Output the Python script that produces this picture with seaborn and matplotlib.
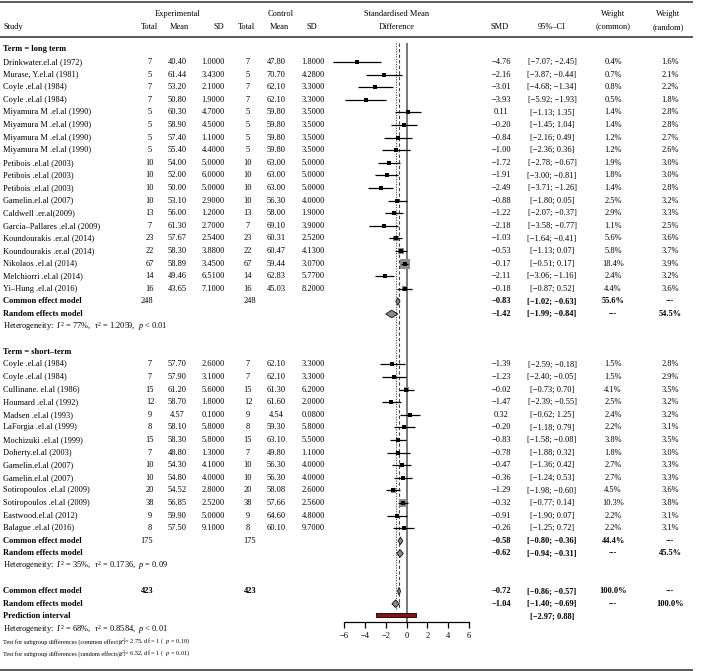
import numpy as np
import pandas as pd
import matplotlib
matplotlib.use("Agg")
import matplotlib.pyplot as plt
import seaborn as sns
from matplotlib.patches import Polygon, Rectangle

# ---------------- data ----------------
names_long = ["Drinkwater.el.al (1972)", "Murase, Y.el.al (1981)", "Coyle .el.al (1984)",
              "Coyle .el.al (1984)", "Miyamura M .el.al (1990)", "Miyamura M .el.al (1990)",
              "Miyamura M .el.al (1990)", "Miyamura M .el.al (1990)", "Petibois .el.al (2003)",
              "Petibois .el.al (2003)", "Petibois .el.al (2003)", "Gamelin.el.al (2007)",
              "Caldwell .er.al(2009)", "Garcia–Pallares .el.al (2009)", "Koundourakis .er.al (2014)",
              "Koundourakis .er.al (2014)", "Nikolaos .el.al (2014)", "Melchiorri .el.al (2014)",
              "Yi–Hung .el.al (2016)"]
n_long = [7, 5, 7, 7, 5, 5, 5, 5, 10, 10, 10, 10, 13, 7, 23, 22, 67, 14, 16]
mean_e_long = [40.40, 61.44, 53.20, 50.80, 60.30, 58.90, 57.40, 55.40, 54.00, 52.00, 50.00,
               53.10, 56.00, 61.30, 57.67, 58.30, 58.89, 49.46, 43.65]
sd_e_long = [1.0, 3.43, 2.1, 1.9, 4.7, 4.5, 1.1, 4.4, 5.0, 6.0, 5.0, 2.9, 1.2, 2.7, 2.54, 3.88,
             3.45, 6.51, 7.1]
mean_c_long = [47.80, 70.70, 62.10, 62.10, 59.80, 59.80, 59.80, 59.80, 63.00, 63.00, 63.00,
               56.30, 58.00, 69.10, 60.31, 60.47, 59.44, 62.83, 45.03]
sd_c_long = [1.8, 4.28, 3.3, 3.3, 3.5, 3.5, 3.5, 3.5, 5.0, 5.0, 5.0, 4.0, 1.9, 3.9, 2.52, 4.13,
             3.07, 5.77, 8.2]
smd_long = [-4.76, -2.16, -3.01, -3.93, 0.11, -0.20, -0.84, -1.00, -1.72, -1.91, -2.49, -0.88,
            -1.22, -2.18, -1.03, -0.53, -0.17, -2.11, -0.18]
lo_long = [-7.07, -3.87, -4.68, -5.92, -1.13, -1.45, -2.16, -2.36, -2.78, -3.00, -3.71, -1.80,
           -2.07, -3.58, -1.64, -1.13, -0.51, -3.06, -0.87]
hi_long = [-2.45, -0.44, -1.34, -1.93, 1.35, 1.04, 0.49, 0.36, -0.67, -0.81, -1.26, 0.05,
           -0.37, -0.77, -0.41, 0.07, 0.17, -1.16, 0.52]
wc_long = [0.4, 0.7, 0.8, 0.5, 1.4, 1.4, 1.2, 1.2, 1.9, 1.8, 1.4, 2.5, 2.9, 1.1, 5.6, 5.8, 18.4,
           2.4, 4.4]
wr_long = [1.6, 2.1, 2.2, 1.8, 2.8, 2.8, 2.7, 2.6, 3.0, 3.0, 2.8, 3.2, 3.3, 2.5, 3.6, 3.7, 3.9,
           3.2, 3.6]

names_short = ["Coyle .el.al (1984)", "Coyle .el.al (1984)", "Cullinane. el.al (1986)",
               "Houmard .el.al (1992)", "Madsen .el.al (1993)", "LaForgia .el.al (1999)",
               "Mochizuki .el.al (1999)", "Doherty.el.al (2003)", "Gamelin.el.al (2007)",
               "Gamelin.el.al (2007)", "Sotiropoulos .el.al (2009)", "Sotiropoulos .el.al (2009)",
               "Eastwood.el.al (2012)", "Balague .el.al (2016)"]
n_short = [7, 7, 15, 12, 9, 8, 15, 7, 10, 10, 20, 38, 9, 8]
mean_e_short = [57.70, 57.90, 61.20, 58.70, 4.57, 58.10, 58.30, 48.80, 54.30, 54.80, 54.52,
                56.85, 59.90, 57.50]
sd_e_short = [2.6, 3.1, 5.6, 1.8, 0.1, 5.8, 5.8, 1.3, 4.1, 4.0, 2.8, 2.52, 5.0, 9.1]
mean_c_short = [62.10, 62.10, 61.30, 61.60, 4.54, 59.30, 63.10, 49.80, 56.30, 56.30, 58.08,
                57.66, 64.60, 60.10]
sd_c_short = [3.3, 3.3, 6.2, 2.0, 0.08, 5.8, 5.5, 1.1, 4.0, 4.0, 2.6, 2.56, 4.8, 9.7]
smd_short = [-1.39, -1.23, -0.02, -1.47, 0.32, -0.20, -0.83, -0.78, -0.47, -0.36, -1.29, -0.32,
             -0.91, -0.26]
lo_short = [-2.59, -2.40, -0.73, -2.39, -0.62, -1.18, -1.58, -1.88, -1.36, -1.24, -1.98, -0.77,
            -1.90, -1.25]
hi_short = [-0.18, -0.05, 0.70, -0.55, 1.25, 0.79, -0.08, 0.32, 0.42, 0.53, -0.60, 0.14, 0.07,
            0.72]
wc_short = [1.5, 1.5, 4.1, 2.5, 2.4, 2.2, 3.8, 1.8, 2.7, 2.7, 4.5, 10.3, 2.2, 2.2]
wr_short = [2.8, 2.9, 3.5, 3.2, 3.2, 3.1, 3.5, 3.0, 3.3, 3.3, 3.6, 3.8, 3.1, 3.1]

# pooled: [estimate, lower, upper]
common_long = [-0.83, -1.02, -0.63]
random_long = [-1.42, -1.99, -0.84]
wsum_long = [55.6, 54.5]
het_long = ["77%", "1.2059", "< 0.01"]
common_short = [-0.58, -0.80, -0.36]
random_short = [-0.62, -0.94, -0.31]
wsum_short = [44.4, 45.5]
het_short = ["35%", "0.1736", "= 0.09"]
common_all = [-0.72, -0.86, -0.57]
random_all = [-1.04, -1.40, -0.69]
pred_all = [-2.97, 0.88]
het_all = ["68%", "0.8584", "< 0.01"]
n_total = [248, 175, 423]
test_common = ["2.75", "1", "0.10"]
test_random = ["6.52", "1", "0.01"]
xticks = [-6, -4, -2, 0, 2, 4, 6]

# ---------------- style ----------------
sns.set_theme(style="white")
plt.rcParams["font.family"] = ["Liberation Serif", "DejaVu Serif"]
plt.rcParams["mathtext.fontset"] = "custom"
plt.rcParams["mathtext.rm"] = "Liberation Serif"
plt.rcParams["mathtext.it"] = "Liberation Serif:italic"
plt.rcParams["mathtext.bf"] = "Liberation Serif:bold"

W, H = 721, 671
FS = 6.0
FS_TEST = 4.5
fig = plt.figure(figsize=(W / 100, H / 100), dpi=100)
bg = fig.add_axes([0, 0, 1, 1])
bg.set_xlim(0, W)
bg.set_ylim(H, 0)
bg.axis("off")

Y0, DY = 62.0, 12.6
def ry(r):
    return Y0 + DY * r

# row layout
r_long_head = -1
r_long = np.arange(len(names_long))
r_long_c = len(names_long)
r_long_r = r_long_c + 1
r_long_h = r_long_c + 2
r_short_head = r_long_h + 2
r_short = r_short_head + 1 + np.arange(len(names_short))
r_short_c = r_short[-1] + 1
r_short_r = r_short_c + 1
r_short_h = r_short_c + 2
r_all_c = r_short_h + 2
r_all_r = r_all_c + 1
r_pred = r_all_c + 2
r_all_h = r_all_c + 3
r_test1 = r_all_c + 4
r_test2 = r_all_c + 5

# column x positions (pixels)
X_STUDY = 3
X_NE, X_ME, X_SE = 150, 177, 213
X_NC, X_MC, X_SC = 248, 276, 313
X_SMD, X_CI, X_WC, X_WR = 501, 552, 613, 670
X_FOREST = 397

def m(v):
    return f"{v:.2f}".replace("-", "−")

def ci(lo, hi):
    return f"[{m(lo)}; {m(hi)}]"

def t(x, y, s, ha="center", bold=False, fs=FS):
    bg.text(x, y, s, ha=ha, va="center", fontsize=fs,
            fontweight="bold" if bold else "normal", color="black")

# rules
LC = "#5a5a5a"
bg.hlines([1.5, 37.0, 669.5], 0, 693, color=LC, lw=1.4)

# header
t(178, 13.5, "Experimental")
t(281, 13.5, "Control")
t(X_FOREST, 13.5, "Standardised Mean")
t(X_WC, 13.5, "Weight")
t(X_WR - 2, 13.5, "Weight")
t(X_STUDY, 27, "Study", ha="left")
for x, s in [(150, "Total"), (179, "Mean"), (219, "SD"), (247, "Total"), (279, "Mean"),
             (312, "SD"), (X_FOREST, "Difference"), (500, "SMD"), (X_CI, "95%–CI"),
             (X_WC, "(common)"), (X_WR - 2, "(random)")]:
    t(x, 27, s)

def study_rows(rows, names, n, me, se, mc, sc, smd, lo, hi, wc, wr):
    for i, r in enumerate(rows):
        y = ry(r)
        t(X_STUDY, y, names[i], ha="left")
        t(X_NE, y, f"{n[i]}")
        t(X_ME, y, f"{me[i]:.2f}")
        t(X_SE, y, f"{se[i]:.4f}")
        t(X_NC, y, f"{n[i]}")
        t(X_MC, y, f"{mc[i]:.2f}")
        t(X_SC, y, f"{sc[i]:.4f}")
        t(X_SMD, y, m(smd[i]))
        t(X_CI, y, ci(lo[i], hi[i]))
        t(X_WC, y, f"{wc[i]:.1f}%")
        t(X_WR, y, f"{wr[i]:.1f}%")

def het_text(y, h):
    t(X_STUDY, y, "Heterogeneity:  $I^2$ = " + h[0] + ",  $\\tau^2$ = " + h[1] +
      ",  $p$ " + h[2], ha="left")

def pooled_rows(rc, rr, ntot, cm, rd, ws, bold_n=False):
    t(X_STUDY, ry(rc), "Common effect model", ha="left", bold=True)
    t(X_NE - 3, ry(rc), f"{ntot}", bold=bold_n)
    t(X_NC + 2, ry(rc), f"{ntot}", bold=bold_n)
    t(X_SMD, ry(rc), m(cm[0]), bold=True)
    t(X_CI, ry(rc), ci(cm[1], cm[2]), bold=True)
    t(X_WC, ry(rc), f"{ws[0]:.1f}%", bold=True)
    t(X_WR, ry(rc), "---", bold=True)
    t(X_STUDY, ry(rr), "Random effects model", ha="left", bold=True)
    t(X_SMD, ry(rr), m(rd[0]), bold=True)
    t(X_CI, ry(rr), ci(rd[1], rd[2]), bold=True)
    t(X_WC, ry(rr), "---", bold=True)
    t(X_WR, ry(rr), f"{ws[1]:.1f}%", bold=True)

t(X_STUDY, ry(r_long_head), "Term = long term", ha="left", bold=True)
study_rows(r_long, names_long, n_long, mean_e_long, sd_e_long, mean_c_long, sd_c_long,
           smd_long, lo_long, hi_long, wc_long, wr_long)
pooled_rows(r_long_c, r_long_r, n_total[0], common_long, random_long, wsum_long)
het_text(ry(r_long_h), het_long)

t(X_STUDY, ry(r_short_head), "Term = short–term", ha="left", bold=True)
study_rows(r_short, names_short, n_short, mean_e_short, sd_e_short, mean_c_short, sd_c_short,
           smd_short, lo_short, hi_short, wc_short, wr_short)
pooled_rows(r_short_c, r_short_r, n_total[1], common_short, random_short, wsum_short)
het_text(ry(r_short_h), het_short)

pooled_rows(r_all_c, r_all_r, n_total[2], common_all, random_all, [100.0, 100.0], bold_n=True)
t(X_STUDY, ry(r_pred), "Prediction interval", ha="left", bold=True)
t(X_CI, ry(r_pred), ci(pred_all[0], pred_all[1]), bold=True)
het_text(ry(r_all_h), het_all)
t(X_STUDY, ry(r_test1), "Test for subgroup differences (common effect):", ha="left", fs=FS_TEST)
t(119, ry(r_test1), "$\\chi^2_1$= " + test_common[0] + ", df = " + test_common[1] +
  " (  $p$ = " + test_common[2] + ")", ha="left", fs=FS_TEST)
t(X_STUDY, ry(r_test2), "Test for subgroup differences (random effects):", ha="left", fs=FS_TEST)
t(119, ry(r_test2), "$\\chi^2_1$= " + test_random[0] + ", df = " + test_random[1] +
  " (  $p$ = " + test_random[2] + ")", ha="left", fs=FS_TEST)

# ---------------- forest ----------------
AX_Y = 622.0
fa = fig.add_axes([344 / W, (H - AX_Y) / H, 125 / W, AX_Y / H])
fa.set_xlim(-6, 6)
fa.set_ylim(AX_Y, 0)
fa.patch.set_alpha(0)
for s in ["top", "left", "right"]:
    fa.spines[s].set_visible(False)
fa.spines["bottom"].set_color("black")
fa.spines["bottom"].set_linewidth(0.9)
fa.set_yticks([])
fa.set_xticks(xticks)
fa.set_xticklabels([f"{v}".replace("-", "−") for v in xticks])
fa.tick_params(axis="x", direction="out", length=4, width=0.9, labelsize=FS, pad=3,
               bottom=True, colors="black")

df = pd.DataFrame({
    "smd": smd_long + smd_short,
    "lo": lo_long + lo_short,
    "hi": hi_long + hi_short,
    "w": wc_long + wc_short,
    "y": [ry(r) for r in r_long] + [ry(r) for r in r_short],
})

top_line = ry(r_long_head) - DY / 2
fa.vlines(0, top_line, AX_Y, color="#6e6e6e", lw=1.3, zorder=1)
fa.vlines(common_all[0], top_line, ry(r_all_r) + 5, color="#444444", lw=0.8,
          linestyles=(0, (3, 2)), zorder=1)
fa.vlines(random_all[0], top_line, ry(r_all_r) + 5, color="#444444", lw=0.8,
          linestyles=(0, (1, 1.3)), zorder=1)

K = 51.84 / 18.4
wmin, wmax = df["w"].min(), df["w"].max()
sns.scatterplot(data=df, x="smd", y="y", size="w", sizes=(K * wmin, K * wmax),
                size_norm=(wmin, wmax), marker="s", color="#8c8c8c", linewidth=0,
                legend=False, ax=fa, zorder=2)
fa.hlines(df["y"], df["lo"], df["hi"], color="black", lw=0.9, clip_on=False, zorder=3)
sns.scatterplot(data=df, x="smd", y="y", marker="s", s=5, color="black", linewidth=0,
                legend=False, ax=fa, zorder=4)
for c in fa.collections:
    c.set_clip_on(False)

DH = 3.8
for est, rr in [(common_long, r_long_c), (random_long, r_long_r), (common_short, r_short_c),
                (random_short, r_short_r), (common_all, r_all_c), (random_all, r_all_r)]:
    y = ry(rr)
    fa.add_patch(Polygon([(est[1], y), (est[0], y - DH), (est[2], y), (est[0], y + DH)],
                         closed=True, facecolor="#8c8c8c", edgecolor="#222222", lw=0.7,
                         zorder=5, clip_on=False))
yp = ry(r_pred) - 1.5
fa.add_patch(Rectangle((pred_all[0], yp - 1.8), pred_all[1] - pred_all[0], 3.6,
                       facecolor="#8b1010", edgecolor="black", lw=0.6, zorder=5, clip_on=False))
fa.set_xlabel("")
fa.set_ylabel("")

fig.savefig("out.png", dpi=100, facecolor="white")
